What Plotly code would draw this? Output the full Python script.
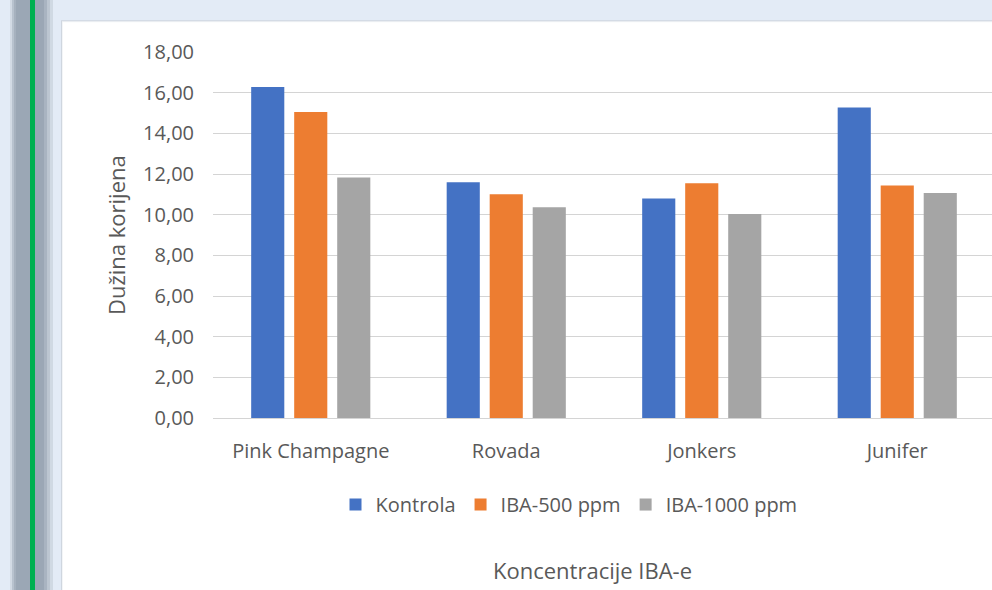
import plotly.graph_objects as go

# Root length by cultivar and IBA treatment
categories = ["Pink Champagne", "Rovada", "Jonkers", "Junifer"]
kontrola = [16.28, 11.60, 10.80, 15.27]
iba_500 = [15.05, 11.01, 11.55, 11.44]
iba_1000 = [11.83, 10.36, 10.03, 11.06]
series_names = ["Kontrola", "IBA-500 ppm", "IBA-1000 ppm"]
y_ticks = [0, 2, 4, 6, 8, 10, 12, 14, 16, 18]

W, H = 992, 590
PLOT_L, PLOT_R = 213, 992
PLOT_T, PLOT_B = 51.7, 418.3
FONT = "Open Sans"
TEXT = "#595959"


def px_x(x):
    return (x - PLOT_L) / (PLOT_R - PLOT_L)


def px_y(y):
    return (PLOT_B - y) / (PLOT_B - PLOT_T)


fig = go.Figure()
for name, vals, col in zip(series_names, [kontrola, iba_500, iba_1000],
                           ["#4472c4", "#ed7d31", "#a5a5a5"]):
    fig.add_trace(go.Bar(x=categories, y=vals, name=name,
                         marker=dict(color=col, line=dict(width=0))))

# window frame around the chart panel
shapes = []


def rect(x0, y0, x1, y1, color, layer="below"):
    shapes.append(dict(type="rect", xref="paper", yref="paper",
                       x0=px_x(x0), x1=px_x(x1), y0=px_y(y1), y1=px_y(y0),
                       fillcolor=color, line=dict(width=0), layer=layer))


# white panel with a soft edge
rect(61, 20, W + 5, H + 5, "#cfd6df")
rect(62, 21, W + 5, H + 5, "#f3f5f7")
rect(63, 22, W + 5, H + 5, "#ffffff")

# left sidebar strip: grey band with a green rule
strip = [(10, 12, "#d2dae4"), (12, 14, "#b8c2ce"), (14, 16, "#a6b1be"),
         (16, 30, "#9ba7b5"), (30, 35, "#00b050"), (35, 44, "#9ba7b5"),
         (44, 47, "#a9b4c1"), (47, 50, "#bcc6d1"), (50, 53, "#d0d9e3")]
for x0, x1, c in strip:
    rect(x0, -5, x1, H + 5, c)

fig.update_layout(
    width=W, height=H,
    margin=dict(l=PLOT_L, r=W - PLOT_R, t=PLOT_T, b=H - PLOT_B, pad=0),
    paper_bgcolor="#e3ebf6",
    plot_bgcolor="rgba(0,0,0,0)",
    separators=",.",
    barmode="group",
    bargap=0.34,
    bargroupgap=0.23,
    font=dict(family=FONT, color=TEXT, size=20),
    shapes=shapes,
    showlegend=True,
    legend=dict(orientation="h", x=px_x(569), xanchor="center",
                y=px_y(505), yanchor="middle",
                font=dict(family=FONT, size=20, color=TEXT),
                bgcolor="rgba(0,0,0,0)", itemwidth=30, tracegroupgap=0),
    annotations=[
        dict(text="Dužina korijena", xref="paper", yref="paper",
             x=px_x(116), y=px_y(235), textangle=-90, showarrow=False,
             xanchor="center", yanchor="middle",
             font=dict(family=FONT, size=22, color=TEXT)),
        dict(text="Koncentracije IBA-e", xref="paper", yref="paper",
             x=px_x(592), y=px_y(571), showarrow=False,
             xanchor="center", yanchor="middle",
             font=dict(family=FONT, size=22, color=TEXT)),
    ],
)

fig.update_xaxes(
    range=[-0.5, -0.5 + (PLOT_R - PLOT_L) / 195.5],
    showline=True, linecolor="#d4d4d4", linewidth=1,
    showgrid=False, ticks="", ticklabelstandoff=15,
    tickfont=dict(family=FONT, size=20, color=TEXT),
)
fig.update_yaxes(
    range=[0, 18], tickvals=y_ticks, tickformat=".2f",
    showgrid=True, gridcolor="#d4d4d4", gridwidth=1,
    zeroline=False, showline=False, ticks="", ticklabelstandoff=18,
    tickfont=dict(family=FONT, size=20, color=TEXT),
)

fig.write_html("out.html")
